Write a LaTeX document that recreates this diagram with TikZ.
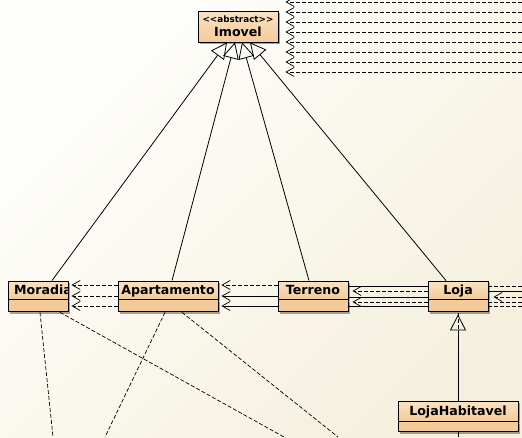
\documentclass[tikz,border=0pt]{standalone}
\usepackage{fontspec}
\setmainfont{DejaVu Sans}
\usetikzlibrary{positioning,arrows.meta,shadows}

\definecolor{clstop}{RGB}{250,226,196}
\definecolor{clsbot}{RGB}{243,203,155}
\definecolor{bgA}{RGB}{254,254,252}
\definecolor{bgB}{RGB}{245,240,222}

\newcommand{\clsfont}{\fontsize{12.6}{14}\selectfont\bfseries}
\newcommand{\stereofont}{\fontsize{8.8}{10}\selectfont\bfseries}

\tikzset{
  clsshadow/.style={drop shadow={shadow xshift=2pt,shadow yshift=-2pt,fill=black,opacity=.35}},
  clshead/.style={draw, line width=0.9pt, top color=clstop, bottom color=clsbot,
    minimum height=18pt, inner sep=0pt, text height=10.5pt, text depth=2.5pt,
    font=\clsfont, clsshadow},
  clsbody/.style={draw, line width=0.9pt, fill=clsbot, minimum height=12pt,
    inner sep=0pt, clsshadow},
  gen/.style={line width=0.8pt, -{Triangle[open,length=16pt,width=16pt]}},
  dep/.style={line width=0.7pt, dash pattern=on 4pt off 2pt,
    -{Straight Barb[length=8pt,width=9pt]}},
  assoc/.style={line width=0.7pt, -{Straight Barb[length=8pt,width=9pt]}},
  depline/.style={line width=0.7pt, dash pattern=on 4pt off 2pt},
  plainline/.style={line width=0.7pt},
}

\begin{document}
\begin{tikzpicture}[x=1pt,y=-1pt]
  \shade[top color=bgA, bottom color=bgB, shading angle=45] (0,0) rectangle (522,437);
  \useasboundingbox (0,0) rectangle (522,437);

  % classes
  \node[clshead, minimum width=80pt, minimum height=31pt, align=center,
        text height=, text depth=] (imovel) at (238,26.5)
        {{\stereofont <{}<abstract>{}>}\\Imovel};

  \node[clshead, minimum width=60pt] (moradia) at (38,290) {};
  \node[clsbody, minimum width=60pt, below=0pt of moradia] (moradiab) {};
  \begin{scope}
    \clip (moradia.north west) rectangle ([xshift=-1.2pt]moradia.south east);
    \node[anchor=base west, font=\clsfont, inner sep=0pt] (moradiatxt) at (14,294) {Moradia};
  \end{scope}

  \node[clshead, minimum width=100pt] (apartamento) at (168,290) {Apartamento};
  \node[clsbody, minimum width=100pt, below=0pt of apartamento] (apartamentob) {};

  \node[clshead, minimum width=70pt] (terreno) at (313,290) {Terreno};
  \node[clsbody, minimum width=70pt, below=0pt of terreno] (terrenob) {};

  \node[clshead, minimum width=60pt] (loja) at (458,290) {Loja};
  \node[clsbody, minimum width=60pt, below=0pt of loja] (lojab) {};

  \node[clshead, minimum width=120pt, minimum height=20pt] (lojahab) at (458,411) {LojaHabitavel};
  \node[clsbody, minimum width=120pt, minimum height=10pt, below=0pt of lojahab] (lojahabb) {};

  % heranca
  \draw[gen] ([xshift=14pt]moradia.north) -- ([xshift=-11pt]imovel.south);
  \draw[gen] ([xshift=4pt]apartamento.north) -- ([xshift=-3pt]imovel.south);
  \draw[gen] ([xshift=-4pt]terreno.north) -- ([xshift=4pt]imovel.south);
  \draw[gen] ([xshift=-12pt]loja.north) -- ([xshift=12pt]imovel.south);

  \draw[depline] (lojahab.north) -- (lojab.south);
  \draw[gen] (lojahab.north) -- ([yshift=-2pt]lojab.south);

  % dependencias para Imovel
  \foreach \y in {2,12,...,72} {
    \coordinate (in\y) at (522,\y);
    \draw[dep, shorten >=7pt] (in\y) -- (imovel.east |- 0,\y);
  }

  % dependencias na linha
  \foreach \y in {285,296,306}
    \draw[dep, shorten >=3pt] (apartamento.west |- 0,\y) -- (moradia.east |- 0,\y);

  \draw[dep, shorten >=3pt] (terreno.west |- 0,285) -- (apartamento.east |- 0,285);
  \foreach \y in {296,306}
    \draw[assoc, shorten >=3pt] (terreno.west |- 0,\y) -- (apartamento.east |- 0,\y);

  \foreach \y in {286,297,306}
    \draw[plainline] (loja.west |- 0,\y) -- (terreno.east |- 0,\y);
  \foreach \y in {291,302}
    \draw[dep, shorten >=4pt] (loja.west |- 0,\y) -- (terreno.east |- 0,\y);

  \foreach \y in {286,302,306} {
    \coordinate (out\y) at (522,\y);
    \draw[depline] (out\y) -- (loja.east |- 0,\y);
  }
  \coordinate (out291) at (522,291);
  \draw[plainline] (out291) -- (loja.east |- 0,291);
  \coordinate (out297) at (522,297);
  \draw[dep, shorten >=5pt] (out297) -- (loja.east |- 0,297);

  % saidas para baixo
  \coordinate (d1) at (53,437);
  \coordinate (d2) at (284,437);
  \coordinate (d3) at (105,437);
  \coordinate (d4) at (338,437);
  \coordinate (d5) at (458,437);
  \draw[depline] ([xshift=2pt]moradiab.south) -- (d1);
  \draw[depline] ([xshift=22pt]moradiab.south) -- (d2);
  \draw[depline] ([xshift=-3pt]apartamentob.south) -- (d3);
  \draw[depline] ([xshift=14pt]apartamentob.south) -- (d4);
  \draw[plainline] (lojahabb.south) -- (d5);
\end{tikzpicture}
\end{document}
